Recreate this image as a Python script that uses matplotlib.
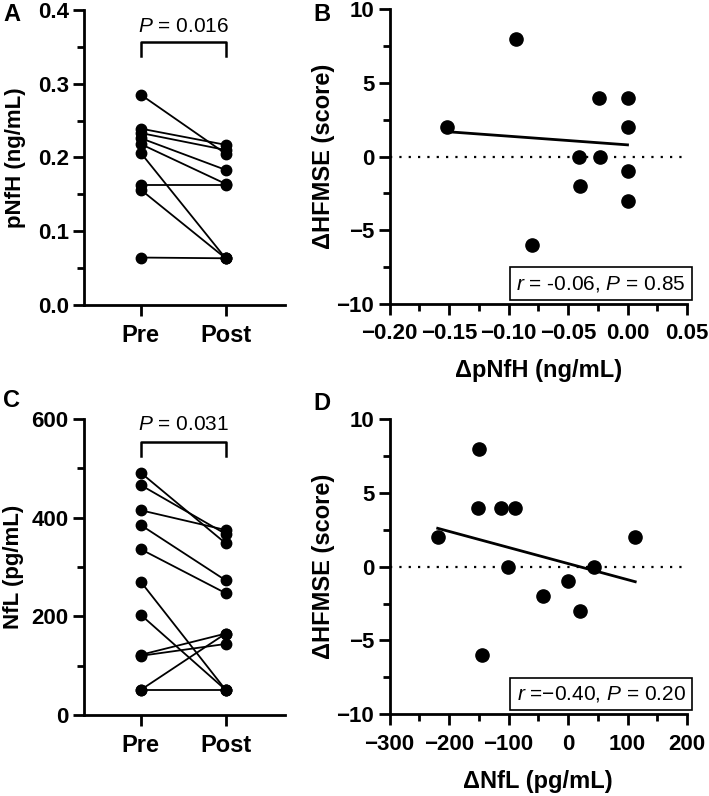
import numpy as np
import matplotlib
matplotlib.use("Agg")
import matplotlib.pyplot as plt
from matplotlib.ticker import MultipleLocator, FormatStrFormatter

# panel A: pNfH pre/post pairs (ng/mL)
pnfh_pre = [0.285, 0.239, 0.233, 0.226, 0.218, 0.206, 0.163, 0.156, 0.064]
pnfh_post = [0.205, 0.217, 0.210, 0.183, 0.164, 0.063, 0.163, 0.063, 0.063]

# panel C: NfL pre/post pairs (pg/mL)
nfl_pre = [491, 466, 415, 385, 336, 270, 203, 122, 120, 51, 51]
nfl_post = [348, 367, 375, 273, 247, 51, 51, 165, 144, 165, 51]

# panel B: change in pNfH vs change in HFMSE
d_pnfh = [-0.152, -0.094, -0.080, -0.041, -0.040, -0.024, -0.023, 0.0, 0.0, 0.0, 0.0]
d_hfmse_b = [2, 8, -6, 0, -2, 4, 0, 4, 2, -1, -3]
fit_b = (-5.9, 0.8)  # slope, intercept of the drawn regression line

# panel D: change in NfL vs change in HFMSE
d_nfl = [-219, -150, -151, -113, -89, -101, -144, -42, 0, 20, 44, 113]
d_hfmse_d = [2, 8, 4, 4, 4, 0, -6, -2, -1, -3, 0, 2]
fit_d = (-0.0109, 0.21)

group_labels = ["Pre", "Post"]
p_text_a = "$P$ = 0.016"
p_text_c = "$P$ = 0.031"
stat_b = "$r$ = -0.06, $P$ = 0.85"
stat_d = "$r$ =\u22120.40, $P$ = 0.20"

plt.rcParams["font.family"] = ["Liberation Sans", "DejaVu Sans"]
plt.rcParams["font.weight"] = "bold"
plt.rcParams["mathtext.fontset"] = "custom"
plt.rcParams["mathtext.it"] = "Liberation Sans:style=italic:weight=normal"
plt.rcParams["mathtext.rm"] = "Liberation Sans:weight=normal"

W, H = 709, 796
fig = plt.figure(figsize=(W / 100, H / 100), dpi=100)


def axes_px(x0, x1, ytop, ybot):
    return fig.add_axes([x0 / W, 1 - ybot / H, (x1 - x0) / W, (ybot - ytop) / H])


def style(ax):
    for s in ["top", "right"]:
        ax.spines[s].set_visible(False)
    for s in ["left", "bottom"]:
        ax.spines[s].set_linewidth(2.0)
    ax.tick_params(which="major", direction="out", length=8, width=2.0,
                   labelsize=16, pad=3)
    ax.tick_params(which="minor", direction="out", length=5, width=2.0)
    ax.tick_params(axis="x", pad=6)


def paired(ax, pre, post, ymax, major, minor, ylabel, ptext, br_lo, br_hi, ptext_y):
    for a, b in zip(pre, post):
        ax.plot([0, 1], [a, b], color="black", lw=1.3, marker="o", ms=7.5,
                clip_on=False)
    ax.set_xlim(-0.67, 1.70)
    ax.set_ylim(0, ymax)
    ax.set_xticks([0, 1])
    ax.set_xticklabels(group_labels, fontsize=17)
    ax.yaxis.set_major_locator(MultipleLocator(major))
    ax.yaxis.set_minor_locator(MultipleLocator(minor))
    ax.set_ylabel(ylabel, fontsize=16, fontweight="bold")
    ax.plot([0, 0, 1, 1], [br_lo, br_hi, br_hi, br_lo], color="black", lw=1.8,
            clip_on=False)
    ax.text(0.5, ptext_y, ptext, ha="center", va="center", fontsize=15,
            fontweight="normal")


def scatter(ax, x, y, fit, xlim, xmajor, xminor, xlabel, stat):
    ax.axhline(0, color="black", lw=1.6, ls=(0, (1, 3.2)))
    ax.plot(x, y, "o", color="black", ms=9.5, clip_on=False, zorder=3)
    xs = np.array([min(x), max(x)])
    ax.plot(xs, fit[0] * xs + fit[1], color="black", lw=2.0, zorder=2)
    ax.set_xlim(*xlim)
    ax.set_ylim(-10, 10)
    ax.xaxis.set_major_locator(MultipleLocator(xmajor))
    ax.xaxis.set_minor_locator(MultipleLocator(xminor))
    ax.yaxis.set_major_locator(MultipleLocator(5))
    ax.yaxis.set_minor_locator(MultipleLocator(2.5))
    ax.set_xlabel(xlabel, fontsize=17, fontweight="bold")
    ax.set_ylabel("\u0394HFMSE (score)", fontsize=17, fontweight="bold")
    ax.xaxis.set_label_coords(0.5, -0.187)
    ax.yaxis.set_label_coords(-0.183, 0.5)
    ax.text(0.995, 0.035, stat, transform=ax.transAxes, ha="right", va="bottom",
            fontsize=15, fontweight="normal",
            bbox=dict(boxstyle="square,pad=0.3", fc="white", ec="black", lw=1.2))


axA = axes_px(84, 285, 10, 304.7)
style(axA)
paired(axA, pnfh_pre, pnfh_post, 0.4, 0.1, 0.05, "pNfH (ng/mL)", p_text_a,
       0.337, 0.356, 0.377)
axA.yaxis.set_major_formatter(FormatStrFormatter("%.1f"))
axA.yaxis.set_label_coords(-0.289, 0.5)

axC = axes_px(84, 285, 419, 715)
style(axC)
paired(axC, nfl_pre, nfl_post, 600, 200, 100, "NfL (pg/mL)", p_text_c,
       525, 554, 588)
axC.yaxis.set_label_coords(-0.30, 0.5)

axB = axes_px(389.5, 687, 9.3, 304)
style(axB)
scatter(axB, d_pnfh, d_hfmse_b, fit_b, (-0.20, 0.05), 0.05, 0.025,
        "\u0394pNfH (ng/mL)", stat_b)

axD = axes_px(389.5, 687, 419, 714.3)
style(axD)
scatter(axD, d_nfl, d_hfmse_d, fit_d, (-300, 200), 100, 50,
        "\u0394NfL (pg/mL)", stat_d)

for lab, x, y in [("A", 3, 3), ("B", 313, 3), ("C", 3, 389), ("D", 313, 392)]:
    fig.text(x / W, 1 - y / H, lab, ha="left", va="top", fontsize=17,
             fontweight="bold")

fig.savefig("out.png", dpi=100)
